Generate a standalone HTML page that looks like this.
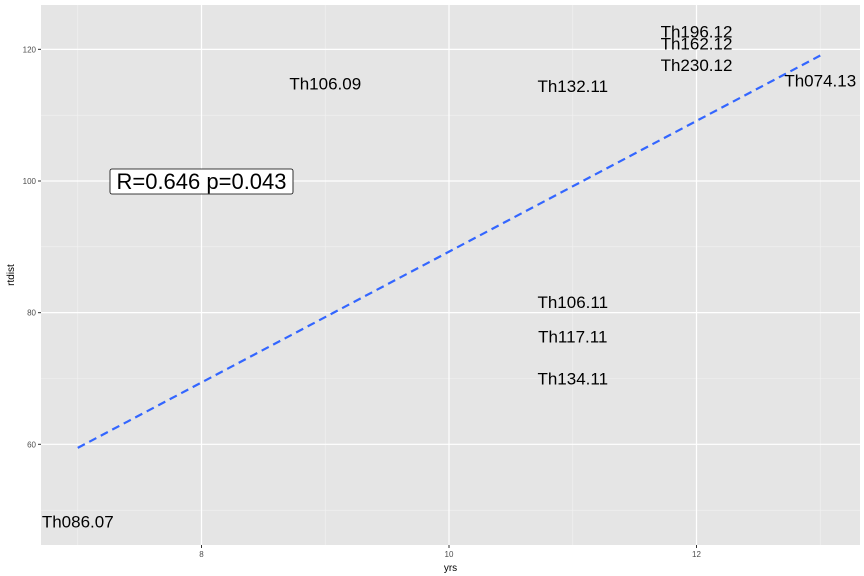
<!DOCTYPE html>
<html><head><meta charset="utf-8"><style>
body{margin:0;background:#fff}
svg{display:block;font-family:"Liberation Sans",sans-serif}
</style></head><body>
<svg id="chart" width="864" height="576"></svg>
<script>
const labels = ["Th086.07","Th106.09","Th132.11","Th106.11","Th117.11","Th134.11","Th196.12","Th162.12","Th230.12","Th074.13"];
const xVals = [7,9,11,11,11,11,12,12,12,13];
const yVals = [48.3,114.8,114.4,81.6,76.4,70.0,122.7,120.9,117.6,115.3];
const xTicks = [8,10,12];
const yTicks = [60,80,100,120];
const xMinor = [7,9,11,13];
const yMinor = [50,70,90,110];
const statText = "R=0.646 p=0.043";

const L=41,R=860,T=5,B=545;
const sx=v=>449+(v-10)*123.75;
const sy=v=>181-(v-100)*6.583;
const svg=document.getElementById('chart');
const NS="http://www.w3.org/2000/svg";
function mk(tag,attrs,parent){const e=document.createElementNS(NS,tag);for(const k in attrs)e.setAttribute(k,attrs[k]);(parent||svg).appendChild(e);return e;}

const panel=mk('rect',{x:L,y:T,width:R-L,height:B-T,fill:'#e5e5e5'});


xMinor.forEach(v=>{const l=mk('line',{x1:sx(v),x2:sx(v),y1:T,y2:B,stroke:'#f2f2f2','stroke-width':0.6});});
yMinor.forEach(v=>{const l=mk('line',{x1:L,x2:R,y1:sy(v),y2:sy(v),stroke:'#f2f2f2','stroke-width':0.6});});
xTicks.forEach(v=>{
 const l=mk('line',{x1:sx(v),x2:sx(v),y1:T,y2:B,stroke:'#fff','stroke-width':1.2});
 const t=mk('line',{x1:sx(v),x2:sx(v),y1:B,y2:B+3,stroke:'#333','stroke-width':1});
 const tx=mk('text',{x:sx(v),y:B+12,'font-size':8,fill:'#4d4d4d','text-anchor':'middle'});tx.textContent=v;
});
yTicks.forEach(v=>{
 const l=mk('line',{x1:L,x2:R,y1:sy(v),y2:sy(v),stroke:'#fff','stroke-width':1.2});
 const t=mk('line',{x1:L-3,x2:L,y1:sy(v),y2:sy(v),stroke:'#333','stroke-width':1});
 const tx=mk('text',{x:L-5,y:sy(v)+3,'font-size':8,fill:'#4d4d4d','text-anchor':'end'});tx.textContent=v;
});
// regression
const n=xVals.length,mx=xVals.reduce((a,b)=>a+b)/n,my=yVals.reduce((a,b)=>a+b)/n;
let sxy=0,sxx=0;for(let i=0;i<n;i++){sxy+=(xVals[i]-mx)*(yVals[i]-my);sxx+=(xVals[i]-mx)**2;}
const slope=sxy/sxx,icpt=my-slope*mx;
const x0=Math.min(...xVals),x1=Math.max(...xVals);
const rl=mk('line',{x1:sx(x0),y1:sy(icpt+slope*x0),x2:sx(x1),y2:sy(icpt+slope*x1),stroke:'#3366ff','stroke-width':2.2,'stroke-dasharray':'8,5'});


labels.forEach((s,i)=>{
 const t=mk('text',{x:sx(xVals[i]),y:sy(yVals[i])+6,'font-size':17,fill:'#000','text-anchor':'middle'});t.textContent=s;
 
 
});
const g=mk('g',{});


mk('rect',{x:110,y:169,width:183,height:25,rx:2,fill:'#fff',stroke:'#000','stroke-width':0.8},g);
const st=mk('text',{x:201.5,y:189,'font-size':22,'text-anchor':'middle',fill:'#000'},g);st.textContent=statText;
const xt=mk('text',{x:(L+R)/2,y:571,'font-size':10,'text-anchor':'middle',fill:'#000'});xt.textContent='yrs';

const yt=mk('text',{x:14,y:(T+B)/2,'font-size':10,'text-anchor':'middle',fill:'#000',transform:`rotate(-90 14 ${(T+B)/2})`});yt.textContent='rtdist';

</script>
</body></html>
